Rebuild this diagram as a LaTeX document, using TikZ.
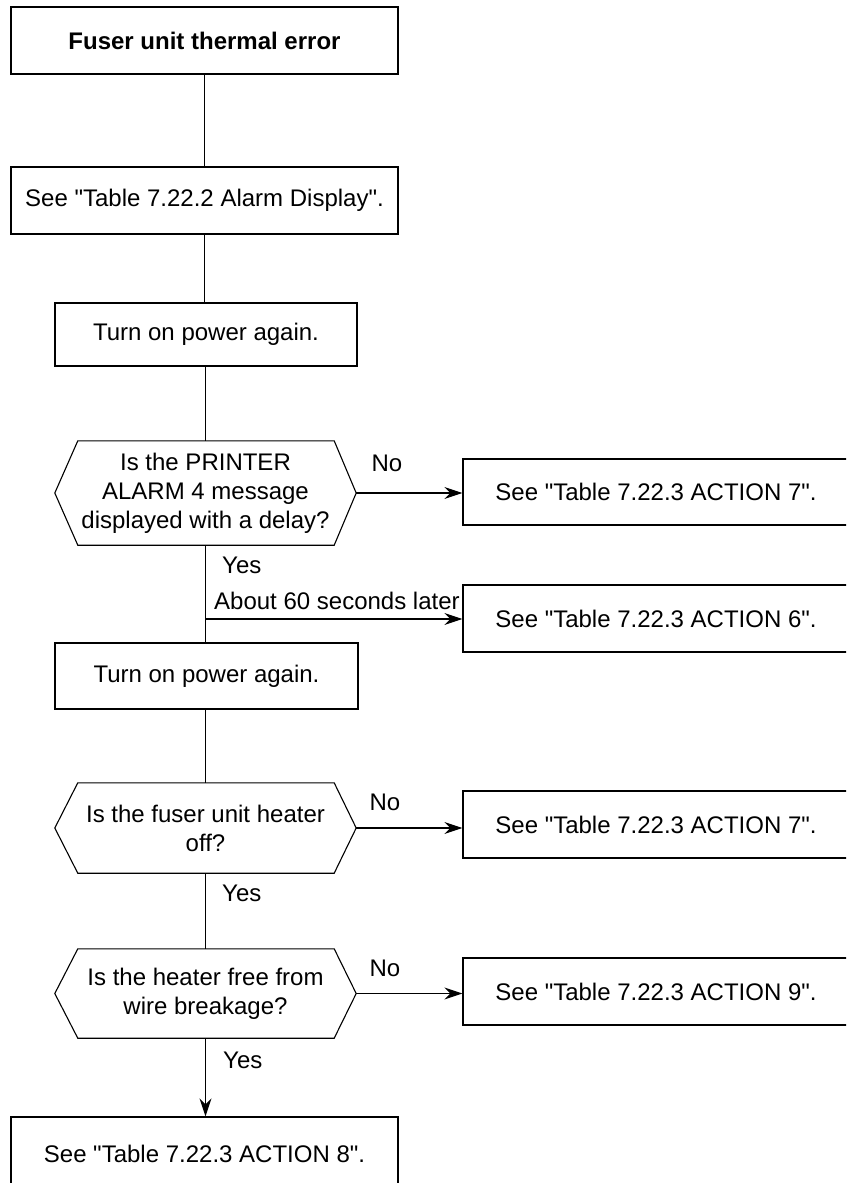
\documentclass[tikz,border=0pt]{standalone}
\usepackage{fontspec}
\setmainfont{Liberation Sans}
\usetikzlibrary{arrows.meta}
\newcommand\dq{\textquotedbl}
\begin{document}
\begin{tikzpicture}[x=1pt,y=-1pt,
  txt/.style={font=\fontsize{24}{29}\selectfont, inner sep=0pt, align=center},
  box/.style={txt, draw, line width=1.2pt, rectangle},
  hexn/.style={txt, minimum width=301pt},
  conn/.style={line width=1.1pt},
  arr/.style={line width=1.1pt, -{Stealth[length=18pt,width=12pt,inset=6pt]}},
  lab/.style={txt}]
\useasboundingbox (0,0) rectangle (846,1183);
\clip (0,0) rectangle (846,1183);

% main column
\node[box, minimum width=387pt, minimum height=67pt, font=\fontsize{24}{29}\selectfont\bfseries] (b1) at (204.5,40.5) {Fuser unit thermal error};
\node[box, minimum width=387pt, minimum height=67pt] (b2) at (204.5,200.5) {See \dq Table 7.22.2 Alarm Display\dq .};
\node[box, minimum width=302pt, minimum height=63pt] (b3) at (206,334.5) {Turn on power again.};
\node[hexn, minimum height=104pt] (d1) at (205.5,493) {Is the PRINTER\\ALARM 4 message\\displayed with a delay?};
\node[box, minimum width=303pt, minimum height=66pt] (b4) at (206.5,676) {Turn on power again.};
\node[hexn, minimum height=90pt] (d2) at (205.5,828) {Is the fuser unit heater\\off?};
\node[hexn, minimum height=89pt] (d3) at (205.5,993.5) {Is the heater free from\\wire breakage?};
\node[box, minimum width=387pt, minimum height=73pt] (b5) at (204.5,1153.5) {See \dq Table 7.22.3 ACTION 8\dq .};

% right column
\node[box, minimum width=386pt, minimum height=66pt] (r1) at (656,492) {See \dq Table 7.22.3 ACTION 7\dq .};
\node[box, minimum width=386pt, minimum height=67pt] (r2) at (656,618.5) {See \dq Table 7.22.3 ACTION 6\dq .};
\node[box, minimum width=386pt, minimum height=67pt] (r3) at (656,824.5) {See \dq Table 7.22.3 ACTION 7\dq .};
\node[box, minimum width=386pt, minimum height=67pt] (r4) at (656,991.5) {See \dq Table 7.22.3 ACTION 9\dq .};

% hexagon outlines
\foreach \d in {d1,d2,d3}{
  \draw[conn, line join=miter] (\d.west) -- ([xshift=23pt]\d.north west) -- ([xshift=-22pt]\d.north east)
    -- (\d.east) -- ([xshift=-22pt]\d.south east) -- ([xshift=23pt]\d.south west) -- cycle;
}

% vertical connectors
\draw[conn] (b1.south) -- (b2.north);
\draw[conn] (b2.south) -- (b3.north -| b2.south);
\draw[conn] (b3.south -| d1.north) -- (d1.north);
\draw[conn] (d1.south) -- (b4.north -| d1.south);
\draw[conn] (b4.south -| d2.north) -- (d2.north);
\draw[conn] (d2.south) -- (d3.north);
\draw[arr] (d3.south) -- (b5.north -| d3.south);

% horizontal connectors
\coordinate (j) at (205.5,619);
\draw[arr] (d1.east) -- (d1.east -| r1.west);
\draw[arr] (j) -- (j -| r2.west);
\draw[arr] (d2.east) -- (d2.east -| r3.west);
\draw[arr] (d3.east) -- (d3.east -| r4.west);

% labels
\node[lab] (n1) at (387,463) {No};
\node[lab] (n2) at (385,802) {No};
\node[lab] (n3) at (385,968) {No};
\node[lab, anchor=west] (y1) at (222,565) {Yes};
\node[lab, anchor=west] (y2) at (222,893) {Yes};
\node[lab, anchor=west] (y3) at (223,1060) {Yes};
\node[lab, anchor=west] (t60) at (214,601) {About 60 seconds later};
\end{tikzpicture}
\end{document}
